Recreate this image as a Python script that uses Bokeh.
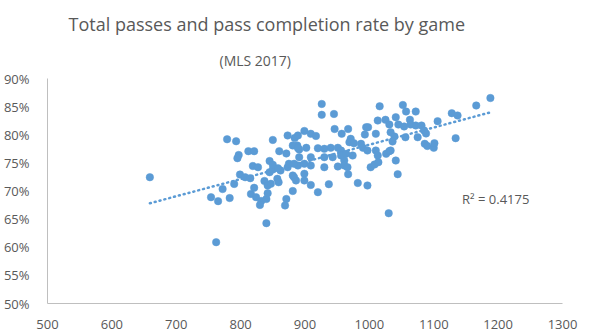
import numpy as np
from bokeh.plotting import figure
from bokeh.models import Range1d, NumeralTickFormatter, FixedTicker, Label, ColumnDataSource, Title
from bokeh.embed import file_html
from bokeh.resources import INLINE

# total passes per game
passes = [659, 762, 754, 765, 772, 783, 790, 779, 793, 797, 795, 812, 821, 799, 807, 815, 819, 827,
          816, 824, 832, 830, 840, 840, 821, 837, 842, 847, 857, 859, 845, 850, 862, 873, 883, 886,
          871, 869, 881, 842, 845, 850, 858, 850, 860, 871, 873, 884, 888, 881, 875, 889, 891, 883,
          889, 899, 909, 917, 889, 902, 920, 930, 940, 951, 956, 891, 909, 930, 943, 961, 899, 909,
          930, 951, 961, 966, 899, 881, 899, 909, 920, 937, 956, 964, 974, 926, 926, 945, 946, 957,
          967, 971, 995, 998, 993, 1010, 969, 976, 987, 990, 997, 1010, 1013, 1026, 1031, 1041,
          1002, 1008, 1014, 1044, 967, 982, 997, 1030, 1016, 1013, 1025, 1031, 1041, 1045, 1054,
          1063, 1064, 1072, 1081, 1085, 1088, 1033, 1039, 1056, 1075, 1036, 1086, 1090, 1100, 1101,
          1033, 1052, 1057, 1072, 1128, 1137, 1166, 1188, 1106, 1134]
# pass completion rate (%)
completion = [72.45, 60.9, 68.9, 68.2, 70.35, 68.75, 71.25, 79.2, 78.85, 76.4, 75.83, 77.08, 77.08,
              72.93, 72.45, 72.28, 74.44, 74.23, 69.47, 68.9, 68.22, 67.51, 68.58, 64.28, 70.57,
              71.78, 70.98, 71.28, 72.17, 71.56, 73.34, 73.82, 73.64, 74.23, 72.45, 71.87, 68.58,
              67.42, 70.0, 69.61, 75.33, 74.66, 74.05, 79.07, 77.08, 76.67, 79.87, 79.42, 78.09,
              78.09, 74.84, 74.53, 77.38, 74.84, 79.87, 80.67, 80.17, 79.78, 77.64, 77.68, 77.61,
              77.5, 77.68, 77.68, 77.2, 76.01, 76.01, 76.01, 76.01, 75.42, 74.84, 74.53, 74.23,
              74.36, 74.53, 74.23, 73.06, 72.76, 71.87, 71.07, 69.79, 71.21, 76.31, 76.61, 76.31,
              85.47, 83.55, 83.69, 81.02, 80.17, 81.02, 79.28, 81.34, 81.34, 80.04, 80.17, 78.68,
              78.5, 78.39, 77.68, 77.2, 77.2, 76.31, 76.61, 77.08, 75.42, 74.23, 74.71, 75.12,
              72.99, 72.99, 71.42, 70.98, 66.05, 85.06, 82.53, 82.66, 81.82, 83.12, 81.82, 81.47,
              82.66, 81.82, 81.64, 81.64, 80.76, 80.22, 80.45, 79.69, 79.56, 79.56, 78.8, 78.39,
              78.0, 77.68, 78.5, 77.2, 85.29, 84.13, 84.13, 83.83, 83.42, 85.2, 86.53, 82.41, 79.39]

x_ticks = [500, 600, 700, 800, 900, 1000, 1100, 1200, 1300]
y_ticks = [0.50, 0.55, 0.60, 0.65, 0.70, 0.75, 0.80, 0.85, 0.90]
title_text = "Total passes and pass completion rate by game"
subtitle_text = "(MLS 2017)"
r2_text = "R\u00b2 = 0.4175"

blue = "#5B9BD5"
grey_text = "#595959"
axis_grey = "#BFBFBF"
FONT = "Open Sans"

rate = [c / 100 for c in completion]

p = figure(width=590, height=333, output_backend="svg", toolbar_location=None,
           x_range=Range1d(500, 1300), y_range=Range1d(0.5, 0.9),
           min_border_left=46, min_border_right=28, min_border_top=78, min_border_bottom=30)
p.background_fill_color = "white"
p.border_fill_color = "white"
p.outline_line_color = None
p.xgrid.visible = False
p.ygrid.visible = False

p.xaxis.ticker = FixedTicker(ticks=x_ticks)
p.yaxis.ticker = FixedTicker(ticks=y_ticks)
p.yaxis.formatter = NumeralTickFormatter(format="0%")
for ax in (p.xaxis, p.yaxis):
    ax.major_tick_line_color = None
    ax.minor_tick_line_color = None
    ax.axis_line_color = axis_grey
    ax.axis_line_width = 1
    ax.major_label_text_color = grey_text
    ax.major_label_text_font = FONT
    ax.major_label_text_font_size = "13px"
p.yaxis.major_label_standoff = 12
p.xaxis.major_label_standoff = 10

# linear trendline (least squares fit of the data)
xa = np.array(passes, dtype=float)
ya = np.array(rate)
m, b = np.polyfit(xa, ya, 1)
tx = [min(passes), max(passes)]
ty = [m * v + b for v in tx]
p.line(tx, ty, line_color=blue, line_width=2.5, line_dash="1 4", line_cap="round")

src = ColumnDataSource(dict(x=passes, y=rate))
p.scatter("x", "y", source=src, size=7.5, fill_color=blue, line_color=blue, line_width=0.5)

p.add_layout(Label(x=1144, y=0.685, text=r2_text, text_font=FONT, text_font_size="13px",
                   text_color=grey_text, text_baseline="middle"))

# subtitle first (closest to the frame), then the main title above it
p.add_layout(Title(text=subtitle_text, align="left", offset=172, standoff=17,
                   text_font=FONT, text_font_size="14px", text_font_style="normal",
                   text_color=grey_text), "above")
p.add_layout(Title(text=title_text, align="left", offset=21, standoff=10,
                   text_font=FONT, text_font_size="18px", text_font_style="normal",
                   text_color=grey_text), "above")

open("out.html", "w").write(file_html(p, INLINE))
